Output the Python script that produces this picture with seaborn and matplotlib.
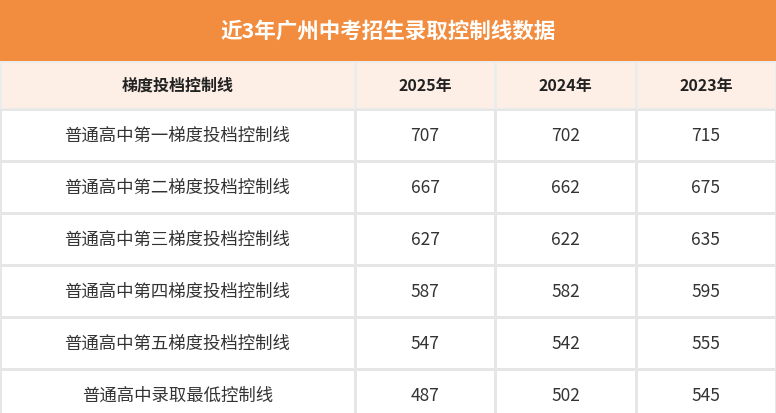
import matplotlib
matplotlib.use("Agg")
import matplotlib.pyplot as plt
import seaborn as sns
import numpy as np
import pandas as pd

sns.set_theme(style="white")
plt.rcParams['font.family'] = ['Noto Sans CJK SC', 'DejaVu Sans']

title = "近3年广州中考招生录取控制线数据"
header_first = "梯度投档控制线"
years = ["2025年", "2024年", "2023年"]
rows = ["普通高中第一梯度投档控制线", "普通高中第二梯度投档控制线", "普通高中第三梯度投档控制线",
        "普通高中第四梯度投档控制线", "普通高中第五梯度投档控制线", "普通高中录取最低控制线"]
v2025 = [707, 667, 627, 587, 547, 487]
v2024 = [702, 662, 622, 582, 542, 502]
v2023 = [715, 675, 635, 595, 555, 545]

W, H = 776, 414
fig = plt.figure(figsize=(W/100, H/100), dpi=100)
fig.patch.set_facecolor("white")

def add(x0, y0, x1, y1):
    return fig.add_axes([x0/W, 1-y1/H, (x1-x0)/W, (y1-y0)/H])

axt = add(0, 0, W, 62)
axt.set_facecolor("#f28c3e"); axt.set_xticks([]); axt.set_yticks([])
for s in axt.spines.values(): s.set_visible(False)
axt.text(0.5, 0.5, title, color="white", fontsize=15.5, fontweight="bold", ha="center", va="center", transform=axt.transAxes)

hdr = pd.DataFrame([[0, 0, 0, 0]], columns=[header_first] + years)
axh1 = add(0, 62, 355, 110)
sns.heatmap(hdr.iloc[:, :1], ax=axh1, cmap=["#fdefe6"], cbar=False, linewidths=1, linecolor="#ececec",
            annot=np.array([[header_first]]), fmt="", annot_kws=dict(color="#222", fontsize=11.5, fontweight="bold"))
axh2 = add(355, 62, W, 110)
sns.heatmap(hdr.iloc[:, 1:], ax=axh2, cmap=["#fdefe6"], cbar=False, linewidths=1, linecolor="#ececec",
            annot=np.array([years]), fmt="", annot_kws=dict(color="#222", fontsize=11.5, fontweight="bold"))

body = pd.DataFrame({"2025": v2025, "2024": v2024, "2023": v2023}, index=rows)
axb1 = add(0, 110, 355, 422)
sns.heatmap(np.zeros((len(rows), 1)), ax=axb1, cmap=["white"], cbar=False, linewidths=1, linecolor="#e6e6e6",
            annot=np.array(rows)[:, None], fmt="", annot_kws=dict(color="#333", fontsize=12.5))
axb2 = add(355, 110, W, 422)
sns.heatmap(body * 0, ax=axb2, cmap=["white"], cbar=False, linewidths=1, linecolor="#e6e6e6",
            annot=body.values, fmt="d", annot_kws=dict(color="#333", fontsize=12.5))

for a in [axh1, axh2, axb1, axb2]:
    a.set_xticks([]); a.set_yticks([]); a.set_xlabel(""); a.set_ylabel("")

fig.savefig("out.png", dpi=100)
